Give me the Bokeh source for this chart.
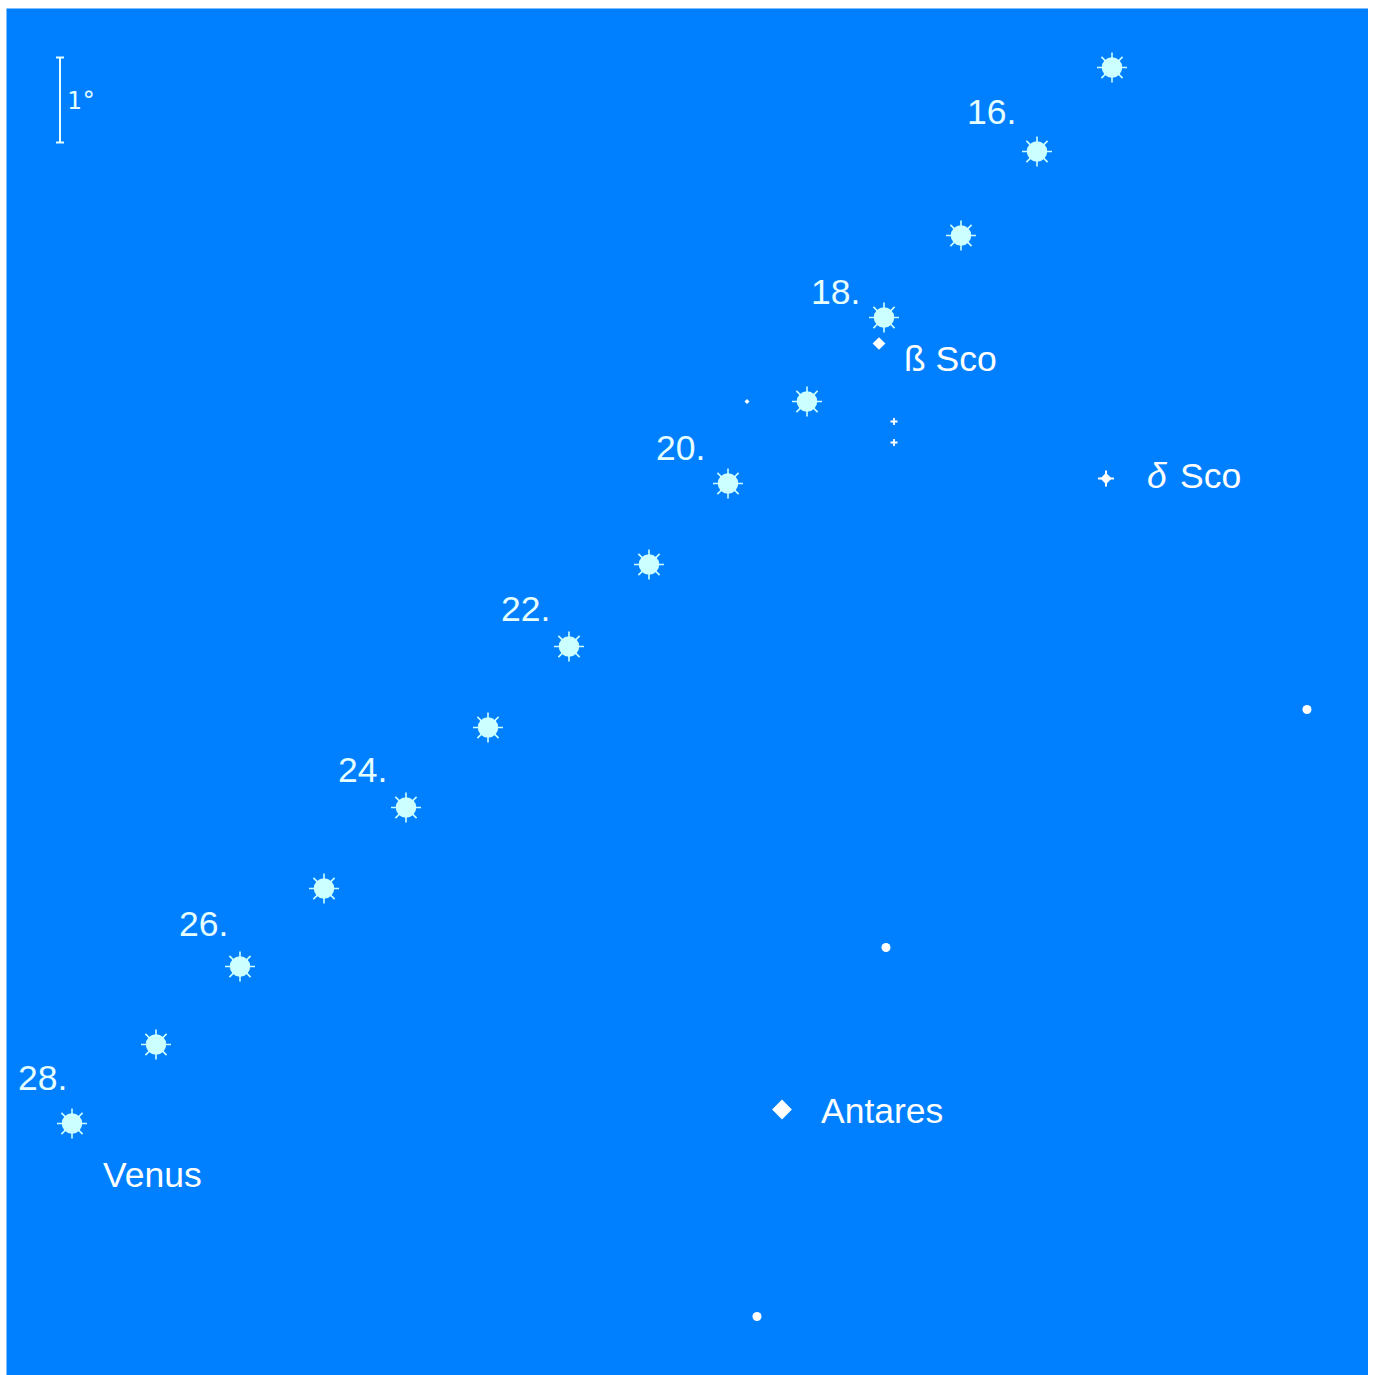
from bokeh.plotting import figure
from bokeh.models import Range1d
from bokeh.core.properties import value
from bokeh.embed import file_html
from bokeh.resources import INLINE
import math

venus_x = [1112, 1037, 961, 884, 807, 728, 649, 569, 488, 406, 324, 240, 156, 72]
venus_y = [67, 151, 235, 317, 401, 483, 564, 646, 727, 807, 888, 966, 1044, 1123]

date_labels = ["16.", "18.", "20.", "22.", "24.", "26.", "28."]
date_x = [967, 811, 656, 501, 338, 179, 18]
date_y = [111, 291, 447, 608, 769, 923, 1077]

name_labels = ["Venus", "Antares", "ß Sco", "Sco"]
name_x = [103, 821, 904, 1180]
name_y = [1174, 1110, 358.5, 475.5]

delta_label = ["δ"]
delta_label_x = [1147]
delta_label_y = [475.5]

dot_x = [1307, 886, 757]
dot_y = [709, 947, 1316]

antares_x, antares_y = [782], [1109]
beta_x, beta_y = [879], [343]
delta_x, delta_y = [1106], [478]
faint_x = [894, 894, 747]
faint_y = [421, 442, 401]

scale_x = [60]
scale_top = [57]
scale_bottom = [142]
scale_cap = 4
scale_label = ["1°"]
scale_label_x = [67]
scale_label_y = [100]

BLUE = "#0080ff"
STAR = "#ccffff"
WHITE = "#ffffff"
PALE = "#e6ffff"
ROT = math.pi / 4

p = figure(width=1362, height=1367, output_backend="svg", toolbar_location=None,
           x_range=Range1d(6.5, 1368.5), y_range=Range1d(1375, 8),
           background_fill_color=BLUE, border_fill_color=BLUE,
           min_border=0, outline_line_color=None)
p.axis.visible = False
p.grid.visible = False
p.styles = {"margin-left": "6px", "margin-top": "8px"}

# Venus
p.scatter(venus_x, venus_y, marker="asterisk", size=30, line_color=STAR, line_width=1.6)
p.scatter(venus_x, venus_y, marker="circle", size=20.5, fill_color=STAR, line_color=None)

# stars
p.scatter(dot_x, dot_y, marker="circle", size=9, fill_color=WHITE, line_color=None)
p.scatter(antares_x, antares_y, marker="square", angle=ROT, size=14, fill_color=WHITE, line_color=None)
p.scatter(beta_x, beta_y, marker="square", angle=ROT, size=9, fill_color=WHITE, line_color=None)
p.scatter(delta_x, delta_y, marker="square", angle=ROT, size=8, fill_color=WHITE, line_color=None)
p.scatter(delta_x, delta_y, marker="cross", size=16, line_color=WHITE, line_width=2)
p.scatter(faint_x[:2], faint_y[:2], marker="cross", size=7, line_color=WHITE, line_width=1.8)
p.scatter(faint_x[2:], faint_y[2:], marker="square", angle=ROT, size=3.5, fill_color=WHITE, line_color=None)

# scale bar
p.segment(scale_x, scale_top, scale_x, scale_bottom, line_color=PALE, line_width=2)
p.segment([x - scale_cap for x in scale_x], scale_top, [x + scale_cap for x in scale_x], scale_top,
          line_color=PALE, line_width=2)
p.segment([x - scale_cap for x in scale_x], scale_bottom, [x + scale_cap for x in scale_x], scale_bottom,
          line_color=PALE, line_width=2)
p.text(scale_label_x, scale_label_y, text=scale_label, text_font=value("DejaVu Sans Mono"),
       text_font_size="24px", text_color=PALE, text_baseline="middle")

# labels
p.text(date_x, date_y, text=date_labels, text_font=value("Liberation Sans"),
       text_font_size="35.5px", text_color=PALE, text_baseline="middle")
p.text(name_x, name_y, text=name_labels, text_font=value("Liberation Sans"),
       text_font_size="35.5px", text_color=WHITE, text_baseline="middle")
p.text(delta_label_x, delta_label_y, text=delta_label, text_font=value("Liberation Sans"),
       text_font_size="35.5px", text_font_style="italic", text_color=WHITE, text_baseline="middle")

open("out.html", "w").write(file_html(p, INLINE))
